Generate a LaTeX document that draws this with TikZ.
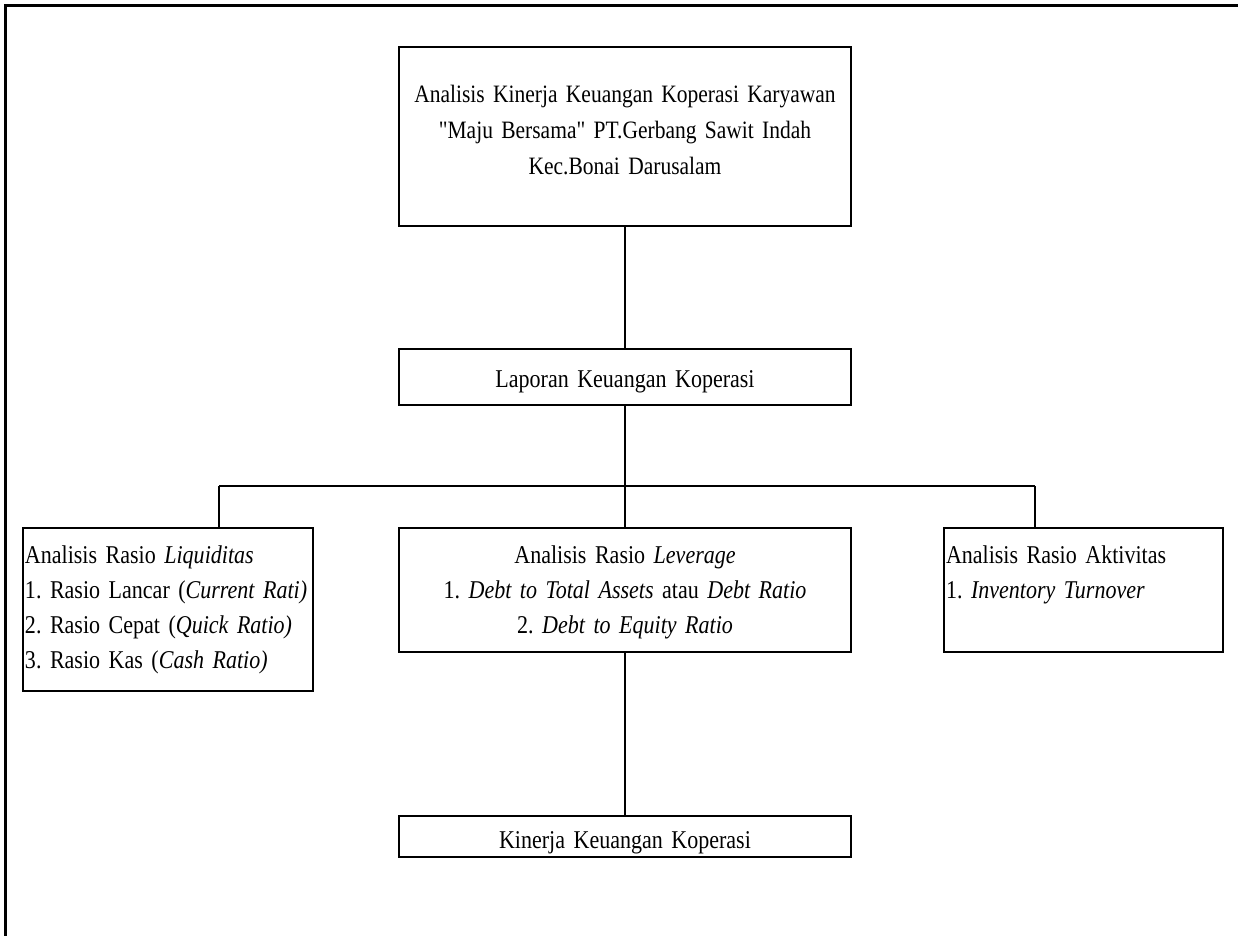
\documentclass[tikz,border=0pt]{standalone}
\usepackage{fontspec}
\setmainfont{Liberation Serif}[FakeStretch=0.86, Ligatures=TeXOff]
\newcommand\kfont{\fontsize{12.8}{17.5}\selectfont\setlength\spaceskip{2pt}}
\newcommand\kfontjudul{\fontsize{12.5}{18}\selectfont\setlength\spaceskip{2pt}}

\begin{document}
\frenchspacing
\begin{tikzpicture}[x=0.5pt, y=-0.5pt, font=\kfont,
    box/.style={draw, line width=1pt, anchor=north west, inner xsep=1pt, inner ysep=0pt},
    midbox/.style={box, text width=226pt, inner xsep=0pt, align=center},
    link/.style={line width=0.6pt},
    frame/.style={line width=1.5pt}]

    \useasboundingbox (0,0) rectangle (1238,936);

    % Frame
    \draw[frame] (5,936) -- (5,6) -- (1238,6);

    % Nodes
    \node[midbox, text height=27.5pt, text depth=61.75pt, font=\kfontjudul] (judul) at (398,46.5)
        {Analisis Kinerja Keuangan Koperasi Karyawan\\"Maju Bersama" PT.Gerbang Sawit Indah\\Kec.Bonai Darusalam};
    \node[midbox, text height=19.5pt, text depth=8.5pt] (lap) at (398,348) {Laporan Keuangan Koperasi};
    \node[box, text width=143pt, align=left, text height=17.5pt, text depth=64pt] (liq) at (22,527)
        {Analisis Rasio \textit{Liquiditas}\\1. Rasio Lancar (\textit{Current Rati)}\\2. Rasio Cepat (\textit{Quick Ratio)}\\3. Rasio Kas (\textit{Cash Ratio)}};
    \node[midbox, text height=17.5pt, text depth=44.5pt] (lev) at (398,527)
        {Analisis Rasio \textit{Leverage}\\1. \textit{Debt to Total Assets} atau \textit{Debt Ratio}\\2. \textit{Debt to Equity Ratio}};
    \node[box, text width=137.5pt, align=left, text height=17.5pt, text depth=44.5pt] (akt) at (943,527)
        {Analisis Rasio Aktivitas\\1. \textit{Inventory Turnover}};
    \node[midbox, text height=16pt, text depth=4.5pt] (kin) at (398,815) {Kinerja Keuangan Koperasi};

    % Branch points
    \coordinate (kiri) at (219,486);
    \coordinate (kanan) at (1035,486);

    % Edges (Lines)
    \draw[link] (judul) -- (lap);
    \draw[link] (lap) -- (lev);
    \draw[link] (kiri) -- (kanan);
    \draw[link] (kiri) -- (kiri |- liq.north);
    \draw[link] (kanan) -- (kanan |- akt.north);
    \draw[link] (lev) -- (kin);

\end{tikzpicture}
\end{document}
